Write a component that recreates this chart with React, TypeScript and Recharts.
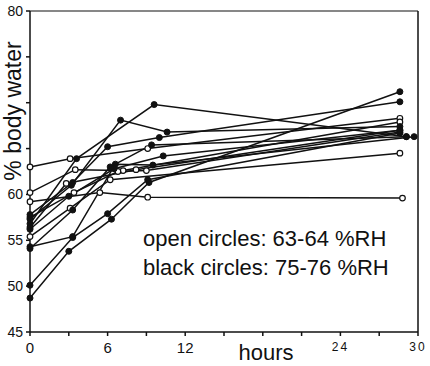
import React from 'react'
import { LineChart, Line, XAxis, YAxis, ReferenceLine } from 'recharts'

// hours after transfer, % body water
const open1 = [[0, 63.0], [3.1, 63.9], [9.1, 65.0], [28.6, 68.3]]
const open2 = [[0, 60.2], [3.5, 62.7], [7.2, 62.6], [28.6, 67.9]]
const open3 = [[0, 59.2], [5.4, 60.2], [9.1, 59.7], [28.8, 59.6]]
const open4 = [[0, 55.4], [3.1, 58.5], [6.2, 61.6], [28.6, 64.5]]
const open5 = [[0, 57.5], [3.4, 60.2], [6.8, 62.5], [9.0, 62.6], [28.6, 66.8]]
const open6 = [[0, 56.4], [2.8, 61.2], [8.2, 62.7], [28.6, 67.0]]

const black1 = [[0, 48.7], [3.0, 53.8], [6.3, 57.3], [9.2, 61.3], [28.6, 71.2]]
const black2 = [[0, 50.1], [3.3, 55.3], [6.0, 57.9], [9.1, 61.6], [28.6, 66.7]]
const black3 = [[0, 54.3], [3.3, 55.4], [6.6, 63.3], [9.5, 63.2], [29.7, 66.3]]
const black4 = [[0, 57.3], [3.2, 61.0], [7.0, 68.1], [10.6, 66.8], [28.6, 67.4]]
const black5 = [[0, 56.8], [3.6, 63.9], [9.6, 69.8], [29.1, 66.3]]
const black6 = [[0, 57.8], [3.3, 61.3], [6.0, 65.2], [10.0, 66.2], [28.6, 70.1]]
const black7 = [[0, 56.2], [3.0, 59.8], [6.5, 62.8], [10.3, 64.2], [28.6, 67.0]]
const black8 = [[0, 54.1], [3.3, 58.3], [6.2, 63.0], [9.4, 65.4], [29.1, 66.3]]

const openSeries = [open1, open2, open3, open4, open5, open6]
const blackSeries = [black1, black2, black3, black4, black5, black6, black7, black8]

const xTicks = [0, 3, 6, 9, 12, 15, 18, 21, 24, 27, 30]
const xLabels: Record<number, string> = { 0: '0', 6: '6', 12: '12', 24: '24', 30: '30' }
const yTicks = [45, 50, 55, 60, 65, 70, 75, 80]
const yLabels = [45, 50, 55, 60, 80]

const toRows = (pts: number[][]) => pts.map(([x, y]) => ({ x, y }))

const FONT = '"Liberation Sans", Arial, sans-serif'

function XTick(props: any) {
  const { x, y, payload } = props
  const txt = xLabels[payload.value]
  if (!txt) return null
  const small = payload.value >= 24
  return (
    <text x={x} y={y + (small ? 13 : 15)} textAnchor="middle" fontFamily={FONT}
      fontSize={small ? 12 : 15} letterSpacing={small ? 2 : 0} fill="#111">
      {txt}
    </text>
  )
}

function YTick(props: any) {
  const { x, y, payload } = props
  if (!yLabels.includes(payload.value)) return null
  return (
    <text x={x - 1} y={y + 5} textAnchor="end" fontFamily={FONT} fontSize={14} fill="#111">
      {payload.value}
    </text>
  )
}

export default function App() {
  return (
    <div style={{ position: 'fixed', left: 0, top: 0, width: 430, height: 366, background: '#fff' }}>
      <LineChart width={430} height={366} margin={{ top: 11, right: 12, left: 0, bottom: 0 }}>
        <XAxis type="number" dataKey="x" domain={[0, 30]} ticks={xTicks} interval={0}
          height={34} tickSize={4} tick={<XTick />} stroke="#111" strokeWidth={1.5}
          allowDuplicatedCategory={false} />
        <YAxis type="number" dataKey="y" domain={[45, 80]} ticks={yTicks} interval={0}
          width={30} tickSize={4} tick={<YTick />} stroke="#111" strokeWidth={1.5} />
        <ReferenceLine y={80} stroke="#111" strokeWidth={1.2} />
        <ReferenceLine x={30} stroke="#111" strokeWidth={1.5} />
        {openSeries.map((s, i) => (
          <Line key={`o${i}`} data={toRows(s)} dataKey="y" type="linear" stroke="#111" strokeWidth={1.5}
            dot={{ r: 2.8, fill: '#fff', stroke: '#111', strokeWidth: 1.2 }} isAnimationActive={false} />
        ))}
        {blackSeries.map((s, i) => (
          <Line key={`b${i}`} data={toRows(s)} dataKey="y" type="linear" stroke="#111" strokeWidth={1.5}
            dot={{ r: 3, fill: '#111', stroke: '#111', strokeWidth: 1 }} isAnimationActive={false} />
        ))}
      </LineChart>
      <svg width={430} height={366} style={{ position: 'absolute', left: 0, top: 0, pointerEvents: 'none' }}>
        <text transform="translate(21,111) rotate(-90)" textAnchor="middle" fontFamily={FONT} fontSize={23} fill="#111">
          % body water
        </text>
        <text x={266} y={360} textAnchor="middle" fontFamily={FONT} fontSize={22} fill="#111">hours</text>
        <text x={143} y={246} fontFamily={FONT} fontSize={22} fill="#111">open circles: 63-64 %RH</text>
        <text x={143} y={275} fontFamily={FONT} fontSize={22} fill="#111">black circles: 75-76 %RH</text>
      </svg>
    </div>
  )
}
